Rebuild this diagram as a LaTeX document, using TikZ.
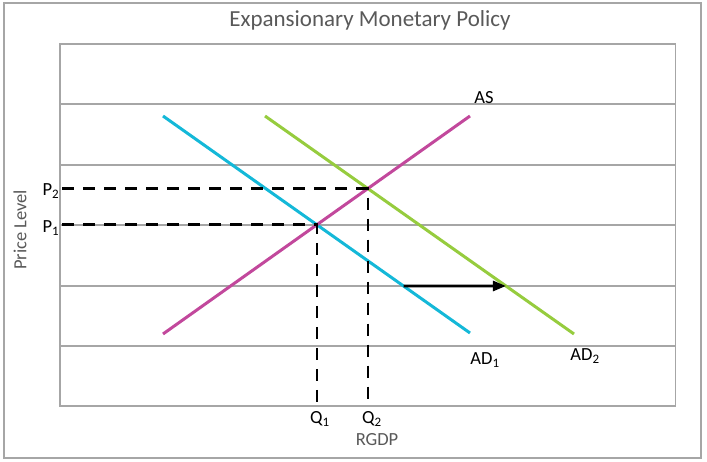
\documentclass[tikz,border=0pt]{standalone}
\usepackage{fontspec}
\setmainfont{Carlito}
\usetikzlibrary{intersections,arrows.meta}
\definecolor{gridgray}{RGB}{166,166,166}
\definecolor{textgray}{RGB}{89,89,89}
\definecolor{adone}{RGB}{20,184,216}
\definecolor{adtwo}{RGB}{150,204,62}
\definecolor{ascol}{RGB}{194,72,156}
\tikzset{
  curve/.style={line width=3pt},
  guide/.style={line width=2.6pt,dash pattern=on 12pt off 9pt},
  lbl/.style={font=\fontsize{18.5}{20}\selectfont},
  axlbl/.style={lbl,text=textgray}
}
\begin{document}
\begin{tikzpicture}[x=1pt,y=-1pt]
  \useasboundingbox (0,0) rectangle (707,462);
  \draw[gridgray,line width=1.3pt] (4,3) rectangle (701,458);
  % plot area and grid
  \draw[gridgray,line width=1.3pt] (60,44) rectangle (675.5,406);
  \foreach \y in {104,165,225,346}
    \draw[gridgray,line width=1.3pt] (60,\y) -- (675.5,\y);
  \path[draw,gridgray,line width=1.3pt,name path=grid] (60,286) -- (675.5,286);
  % curves
  \coordinate (AD1a) at (163,116);
  \coordinate (AD1b) at (470,333);
  \coordinate (AD2a) at (265,116);
  \coordinate (AD2b) at (574,334);
  \coordinate (ASa) at (163,334);
  \coordinate (ASb) at (470,116);
  \draw[curve,adone,name path=adone] (AD1a) -- (AD1b);
  \draw[curve,adtwo,name path=adtwo] (AD2a) -- (AD2b);
  \draw[curve,ascol,name path=as] (ASa) -- (ASb);
  \path[name intersections={of=adone and as,by=E1}];
  \path[name intersections={of=adtwo and as,by=E2}];
  \path[name intersections={of=adone and grid,by=S1}];
  \path[name intersections={of=adtwo and grid,by=S2}];
  % equilibria
  \draw[guide] (E1 -| 62,0) -- (E1) -- (E1 |- 0,406);
  \draw[guide] (E2 -| 62,0) -- (E2) -- (E2 |- 0,406);
  \draw[line width=2.6pt,-{Triangle[length=13pt,width=10pt]}] (S1) -- (S2);
  % labels
  \node[font=\fontsize{23}{25}\selectfont,text=textgray] (title) at (370,20) {Expansionary Monetary Policy};
  \node[axlbl,rotate=90] (ylab) at (20,230) {Price Level};
  \node[axlbl] (xlab) at (377,440) {RGDP};
  \node[lbl] (p2) at (51,191) {P\textsubscript{2}};
  \node[lbl] (p1) at (51,228) {P\textsubscript{1}};
  \node[lbl] (q1) at (320,419) {Q\textsubscript{1}};
  \node[lbl] (q2) at (372,419) {Q\textsubscript{2}};
  \node[lbl] (aslab) at (484,98) {AS};
  \node[lbl] (ad1lab) at (485,360) {AD\textsubscript{1}};
  \node[lbl] (ad2lab) at (585,356) {AD\textsubscript{2}};
\end{tikzpicture}
\end{document}
